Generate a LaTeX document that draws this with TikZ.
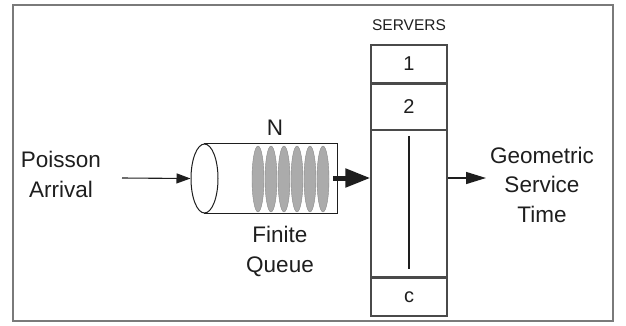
\documentclass[tikz,border=0pt]{standalone}
\usepackage{fontspec}
\setmainfont{Liberation Sans}
\usetikzlibrary{positioning,arrows.meta,shapes.geometric}

\definecolor{framegray}{HTML}{7A7A7A}
\definecolor{linegray}{HTML}{4A4A4A}
\definecolor{inkgray}{HTML}{1E1E1E}
\definecolor{discgray}{HTML}{ABABAB}

\tikzset{
  lbl/.style={align=center,text=inkgray,inner sep=0pt,anchor=base,
    font=\fontsize{22.5}{29.5}\selectfont},
  slot/.style={draw=linegray,line width=1.3pt,minimum width=76pt,inner sep=0pt,
    text=inkgray,font=\fontsize{20}{22}\selectfont},
  disc/.style={fill=discgray,draw=discgray!80!black,line width=0.4pt},
}

\begin{document}
\begin{tikzpicture}[x=1pt,y=-1pt]
\useasboundingbox (0,0) rectangle (626,325);
\draw[framegray,line width=2pt] (13,5) rectangle (613,321);

% arrival and service labels
\node (arrival) [lbl] at (61,197) {Poisson\\Arrival};
\node (service) [lbl] at (542,222) {Geometric\\Service\\Time};

% finite queue
\node (mouth) [ellipse,draw=inkgray,line width=1pt,minimum width=27pt,minimum height=69pt,inner sep=0pt] at (204.5,178.5) {};
\node (queue) [minimum width=133pt,minimum height=69pt,inner sep=0pt] at (270.5,178.5) {};
\foreach \i in {0,...,5}
  \draw[disc] (258+13*\i,179) ellipse (6 and 33);
\draw[inkgray,line width=1pt] (queue.north west) -- (queue.north east) -- (queue.south east) -- (queue.south west);
\node (n) [lbl] at (275,135) {N};
\node (finite) [lbl] at (280,272) {Finite\\Queue};

% servers
\node (s1) [slot,minimum height=38pt] at (409,64) {1};
\node (s2) [slot,minimum height=45pt,below=0pt of s1] {2};
\node (gap) [slot,minimum height=146pt,below=0pt of s2] {};
\node (sc) [slot,minimum height=38pt,below=0pt of gap] {c};
\node (servers) [text=inkgray,inner sep=0pt,anchor=base,font=\fontsize{15.5}{18}\selectfont] at (409,30) {SERVERS};
\draw[inkgray,line width=1.3pt] ([yshift=-6pt]gap.north) -- ([yshift=8pt]gap.south);

% connectors
\coordinate (in) at (122,178);
\coordinate (out) at (486,178);
\draw[->,>={Triangle[length=14pt,width=10pt]},inkgray,line width=1.1pt] (in) -- (mouth.west);
\draw[->,>={Triangle[length=25pt,width=18pt]},inkgray,line width=5pt] ([xshift=-4pt]queue.east |- 0,178) -- (gap.west |- 0,178);
\draw[->,>={Triangle[length=20pt,width=12pt]},inkgray,line width=1.4pt] (gap.east |- 0,178) -- (out);
\end{tikzpicture}
\end{document}
